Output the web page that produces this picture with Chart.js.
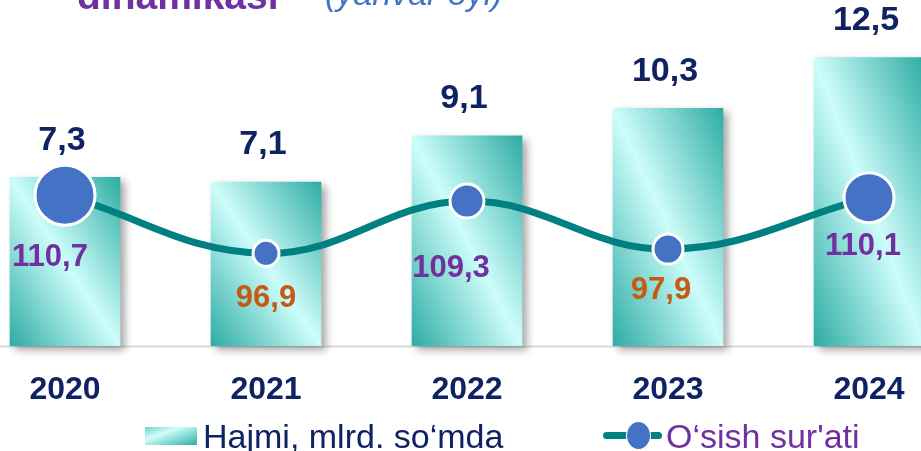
<!DOCTYPE html>
<html>
<head>
<meta charset="utf-8">
<script src="https://cdn.jsdelivr.net/npm/chart.js@4.4.1/dist/chart.umd.min.js"></script>
<style>
  html, body { margin: 0; padding: 0; background: #fff; overflow: hidden; }
  #wrap { position: relative; width: 921px; height: 451px; font-family: "Liberation Sans", Arial, sans-serif; }
  #chart { position: absolute; left: 0; top: 0; }
  .t { position: absolute; white-space: nowrap; line-height: 1; }
  .box { position: absolute; left: 145px; top: 427px; width: 52px; height: 18px;
         background: linear-gradient(160deg, #6fd3cc 0%, #d2fdfb 35%, #7fdad4 65%, #2fada5 100%); }
  .lineIcon { position: absolute; left: 603px; top: 432px; width: 59px; height: 7px; border-radius: 4px; background: #008080; }
  .dot { position: absolute; left: 626px; top: 421px; width: 23px; height: 27px; border-radius: 50%;
         background: #4472c4; border: 1px solid #fff; }
</style>
</head>
<body>
<div id="wrap">
  <canvas id="chart" width="921" height="451"></canvas>
  <div class="t" style="left:77px; top:-24px; font-size:39px; font-weight:bold; color:#7030a0;">dinamikasi</div>
  <div class="t" style="left:325px; top:-24px; font-size:34px; font-style:italic; color:#4472c4;">(yanvar oyi)</div>
  <div class="box"></div>
  <div class="t" style="left:203px; top:419px; font-size:34px; color:#0f2263;">Hajmi, mlrd. so‘mda</div>
  <div class="lineIcon"></div>
  <div class="dot"></div>
  <div class="t" style="left:666px; top:419px; font-size:34px; color:#7030a0;">O‘sish sur'ati</div>
</div>
<script>
// ma'lumotlar
const years = ['2020', '2021', '2022', '2023', '2024'];
const volume = [7.3, 7.1, 9.1, 10.3, 12.5];      // Hajmi, mlrd. so'mda
const growth = [110.7, 96.9, 109.3, 97.9, 110.1]; // O'sish sur'ati, %

// ko'rinish sozlamalari
const pointSizes = [30, 13, 17, 15, 25];
const growthLabelShift = [[-15, 62], [0, 45], [-16, 67], [-7, 41], [-6, 49]];
const BAR_W = 110;
const FONT = '"Liberation Sans", Arial, sans-serif';

const fmt = v => v.toFixed(1).replace('.', ',');

function barFill(c) {
    const chart = c.chart;
    if (!chart.chartArea || c.type !== 'data') return '#5cc8c0';
    const x = chart.scales.x.getPixelForValue(c.dataIndex);
    const top = chart.scales.y.getPixelForValue(c.raw);
    const bottom = chart.scales.y.getPixelForValue(0);
    const w = BAR_W, h = bottom - top;
    const cy = (top + bottom) / 2;
    const k = w * h / (w * w + h * h);
    const g = chart.ctx.createLinearGradient(x - h * k, cy + w * k, x + h * k, cy - w * k);
    g.addColorStop(0, '#2eaca4');
    g.addColorStop(0.5, '#cdfdfa');
    g.addColorStop(1, '#2eaca4');
    return g;
}

const decorPlugin = {
    id: 'decor',
    beforeDatasetsDraw(chart) {
        const ctx = chart.ctx;
        const y0 = chart.scales.y.getPixelForValue(0);
        ctx.save();
        ctx.strokeStyle = '#d9d9d9';
        ctx.lineWidth = 2;
        ctx.beginPath();
        ctx.moveTo(0, y0 + 1);
        ctx.lineTo(chart.width, y0 + 1);
        ctx.stroke();
        ctx.restore();
    },
    beforeDatasetDraw(chart, args) {
        if (args.index !== 0) return;
        const ctx = chart.ctx;
        ctx.save();
        ctx.shadowColor = 'rgba(0,0,0,0.35)';
        ctx.shadowBlur = 8;
        ctx.shadowOffsetX = 5;
        ctx.shadowOffsetY = 4;
    },
    afterDatasetDraw(chart, args) {
        if (args.index === 0) chart.ctx.restore();
    },
    afterDatasetsDraw(chart) {
        const ctx = chart.ctx;
        ctx.save();
        ctx.textAlign = 'center';
        ctx.textBaseline = 'middle';
        ctx.font = 'bold 34px ' + FONT;
        ctx.fillStyle = '#0f2263';
        chart.getDatasetMeta(0).data.forEach((bar, i) => {
            ctx.fillText(fmt(volume[i]), bar.x - 3, bar.y - 37);
        });
        ctx.font = 'bold 31px ' + FONT;
        chart.getDatasetMeta(1).data.forEach((pt, i) => {
            ctx.fillStyle = growth[i] >= 100 ? '#7030a0' : '#c55a11';
            ctx.fillText(fmt(growth[i]), pt.x + growthLabelShift[i][0], pt.y + growthLabelShift[i][1]);
        });
        ctx.restore();
    }
};

new Chart(document.getElementById('chart'), {
    type: 'bar',
    data: {
        labels: years,
        datasets: [
            {
                type: 'bar',
                label: 'Hajmi, mlrd. so‘mda',
                data: volume,
                yAxisID: 'y',
                backgroundColor: barFill,
                barThickness: BAR_W,
                clip: false,
                order: 1
            },
            {
                type: 'line',
                label: "O‘sish sur'ati",
                data: growth,
                yAxisID: 'y1',
                borderColor: '#008080',
                borderWidth: 7,
                tension: 0.4,
                pointRadius: pointSizes,
                pointBackgroundColor: '#4472c4',
                pointBorderColor: '#ffffff',
                pointBorderWidth: 3,
                clip: false,
                order: 0
            }
        ]
    },
    options: {
        responsive: false,
        animation: false,
        devicePixelRatio: 1,
        layout: { autoPadding: false, padding: { left: 65, right: 52, top: 0, bottom: 17 } },
        plugins: { legend: { display: false }, tooltip: { enabled: false } },
        scales: {
            x: {
                offset: false,
                grid: { display: false, drawTicks: false },
                border: { display: false },
                ticks: {
                    color: '#0f2263',
                    font: { family: FONT, size: 32, weight: 'bold' },
                    padding: 25,
                    autoSkip: false,
                    maxRotation: 0
                },
                afterFit: s => { s.paddingLeft = 0; s.paddingRight = 0; }
            },
            y: { display: false, min: 0, max: 15 },
            y1: { display: false, min: 75, max: 157 }
        }
    },
    plugins: [decorPlugin]
});
</script>
</body>
</html>
